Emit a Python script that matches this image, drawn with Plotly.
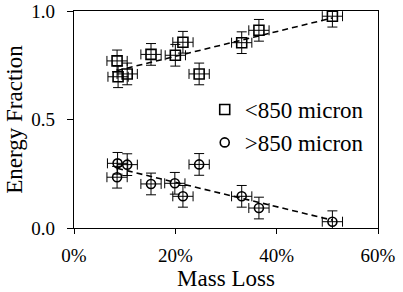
import numpy as np
import plotly.graph_objects as go

# Mass loss (fraction) and energy fractions
mass_loss_small = [0.085, 0.087, 0.105, 0.152, 0.200, 0.215, 0.247, 0.331, 0.365, 0.510]
energy_small = [0.770, 0.697, 0.710, 0.800, 0.796, 0.856, 0.710, 0.854, 0.911, 0.976]
mass_loss_large = [0.086, 0.105, 0.085, 0.152, 0.199, 0.215, 0.247, 0.331, 0.365, 0.510]
energy_large = [0.298, 0.292, 0.234, 0.203, 0.206, 0.146, 0.293, 0.146, 0.092, 0.029]
err_x = 0.02
err_y = 0.05
x_ticks = [0, 0.2, 0.4, 0.6]
y_ticks = [0.0, 0.5, 1.0]

FONT = "Liberation Serif, Times New Roman, serif"

fig = go.Figure()

def trend(xs, ys):
    xs = np.array(xs); ys = np.array(ys)
    m, b = np.polyfit(xs, ys, 1)
    xl = np.array([xs.min(), xs.max()])
    return xl, m * xl + b

for xs, ys in [(mass_loss_small, energy_small), (mass_loss_large, energy_large)]:
    xl, yl = trend(xs, ys)
    fig.add_trace(go.Scatter(x=xl, y=yl, mode="lines", showlegend=False,
                             line=dict(color="black", width=1.6, dash="6px,4px"), hoverinfo="skip"))

errs = dict(type="constant", color="black", thickness=1, width=5)
fig.add_trace(go.Scatter(x=mass_loss_small, y=energy_small, mode="markers", name="<850 micron",
                         marker=dict(symbol="square-open", size=10, color="black", line=dict(width=1.6)),
                         error_x=dict(value=err_x, **errs), error_y=dict(value=err_y, **errs)))
fig.add_trace(go.Scatter(x=mass_loss_large, y=energy_large, mode="markers", name=">850 micron",
                         marker=dict(symbol="circle-open", size=9, color="black", line=dict(width=1.6)),
                         error_x=dict(value=err_x, **errs), error_y=dict(value=err_y, **errs)))

fig.update_layout(
    width=403, height=292,
    margin=dict(l=74, r=25, t=11, b=64),
    paper_bgcolor="white", plot_bgcolor="white",
    font=dict(family=FONT, size=19, color="black"),
    legend=dict(x=0.43, y=0.645, xanchor="left", yanchor="top",
                font=dict(family=FONT, size=23),
                bgcolor="rgba(0,0,0,0)", itemwidth=30, tracegroupgap=0),
    xaxis=dict(range=[0, 0.6], tickvals=x_ticks, tickformat=".0%", showgrid=False, zeroline=False,
               showline=True, linecolor="black", linewidth=1.3, mirror=True, automargin=False,
               ticks="outside", ticklen=5, tickcolor="black", ticklabelstandoff=5,
               tickfont=dict(family=FONT, size=19),
               title=dict(text="Mass Loss", font=dict(family=FONT, size=23), standoff=2)),
    yaxis=dict(range=[0, 1], tickvals=y_ticks, tickformat=".1f", showgrid=False, zeroline=False,
               showline=True, linecolor="black", linewidth=1.3, mirror=True, automargin=False,
               ticks="outside", ticklen=6, tickcolor="black", ticklabelstandoff=8,
               tickfont=dict(family=FONT, size=19),
               title=dict(text="Energy Fraction", font=dict(family=FONT, size=23), standoff=2)),
)

fig.write_html("out.html", config={"displayModeBar": False},
               post_script="document.body.style.margin='0';")
